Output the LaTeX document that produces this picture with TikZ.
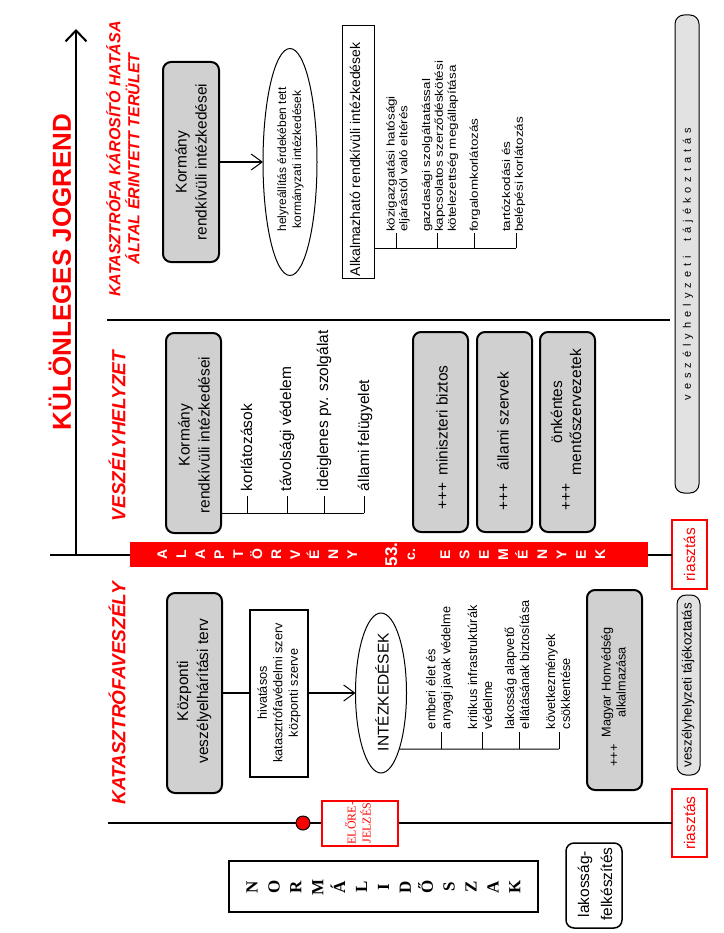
\documentclass[tikz,border=0pt]{standalone}
\usepackage{fontspec}
\setmainfont{Liberation Sans}
\newfontfamily\serifrm{Liberation Serif}
\newfontfamily\condf[FakeStretch=1.2]{Liberation Sans}
\usetikzlibrary{arrows.meta,shapes.geometric}
\definecolor{boxgray}{RGB}{208,208,208}
\definecolor{pillgray}{RGB}{226,226,226}
\definecolor{myred}{RGB}{255,0,0}
\newcommand\mylk{\kern5pt}
\begin{document}
\begin{tikzpicture}[x=1pt,y=-1pt,
  every node/.style={inner sep=0pt, outer sep=0pt},
  rt/.style={rotate=90},
  bigf/.style={font=\fontsize{15.5}{20}\selectfont},
  midf/.style={font=\fontsize{12.7}{15}\selectfont},
  cnf/.style={font=\condf\fontsize{11.2}{12.8}\selectfont},
  lwa/.style={line width=1pt},
  lwb/.style={line width=2pt},
  graybox/.style={draw, line width=2pt, fill=boxgray, rounded corners=8pt},
  redbox/.style={draw=myred, line width=2pt, fill=white},
  barletter/.style={rotate=90, anchor=base, text=white, font=\fontsize{14}{15}\bfseries\selectfont},
  normletter/.style={rotate=90, anchor=base, font=\serifrm\fontsize{17}{18}\bfseries\selectfont},
  redtitle/.style={rotate=90, text=myred, font=\fontsize{19}{22}\bfseries\itshape\selectfont},
  openarrow/.style={-{Straight Barb[length=11pt,width=16pt,line width=1pt 0]}},
]
\useasboundingbox (0,0) rectangle (723,933);
\fill[white] (0,0) rectangle (723,933);

% ---------- main axis and red bar ----------
\coordinate (axtop) at (76,29);
\coordinate (axbot) at (76,554.5);
\coordinate (stub) at (50,554.5);
\node[fill=myred, minimum width=518pt, minimum height=25pt] (bar) at (389,554.5) {};
\draw[lwb, -{Straight Barb[length=11pt,width=21pt]}] (axbot) -- (axtop);
\draw[lwb] (stub) -- (bar.west);

\foreach \c [count=\i from 0] in {A,L,A,P,T,Ö,R,V,É,N,Y}
  \node[barletter] (ba\i) at ({167+19*\i},554.5) {\c};
\node[barletter, font=\fontsize{17}{18}\bfseries\selectfont] (b53) at (397,554.5) {53.};
\node[barletter] (bc) at (415,554.5) {c.};
\foreach \c [count=\i from 0] in {E,S,E,M,É,N,Y,E,K}
  \node[barletter] (bb\i) at ({450+19.4*\i},554.5) {\c};

% ---------- separator lines ----------
\coordinate (h1a) at (107,320);
\coordinate (h1b) at (670,320);
\draw[lwb] (h1a) -- (h1b);

\node[redbox, minimum width=35pt, minimum height=69pt] (rias1) at (689.5,554.5) {};
\node[rt, text=myred, bigf] (rias1t) at (rias1) {riasztás};
\draw[lwb] (bar.east) -- (rias1.west);

\node[redbox, minimum width=35pt, minimum height=68pt] (rias2) at (689.5,823) {};
\node[rt, text=myred, bigf] (rias2t) at (rias2) {riasztás};
\coordinate (h2a) at (108,823);
\draw[lwb] (h2a) -- (rias2.west);
\node[circle, draw, fill=myred, line width=1pt, minimum size=14pt] (dot) at (303,823) {};
\node[redbox, minimum width=76pt, minimum height=45pt] (elore) at (360,823) {};
\node[rt, text=myred, font=\serifrm\fontsize{12}{15}\selectfont, align=center] (eloret) at (358,823) {ELŐRE-\\JELZÉS};

% ---------- titles ----------
\node[rt, text=myred, font=\fontsize{26}{30}\bfseries\selectfont] (kj) at (60,272) {KÜLÖNLEGES JOGREND};
\node[rt, text=myred, font=\fontsize{16}{19}\bfseries\itshape\selectfont, align=center] (kkh) at (123,159) {KATASZTRÓFA KÁROSÍTÓ HATÁSA\\ÁLTAL ÉRINTETT TERÜLET};
\node[redtitle] (vh) at (117,436) {VESZÉLYHELYZET};
\node[redtitle] (kv) at (117,693.5) {KATASZTRÓFAVESZÉLY};

% ---------- top section ----------
\node[graybox, minimum width=56pt, minimum height=200pt] (kb1) at (191,162) {};
\node[rt, bigf, align=center] (kb1t) at (kb1) {Kormány\\rendkívüli intézkedései};
\node[ellipse, draw, lwa, minimum width=54pt, minimum height=227pt] (ell1) at (290,162) {};
\node[rt, font=\fontsize{12}{15}\selectfont, align=center] (ell1t) at (290.5,159.5) {helyreállítás érdekében tett\\kormányzati intézkedések};
\draw[lwb, openarrow] (kb1.east) -- (ell1.west);

\node[draw, lwa, minimum width=32pt, minimum height=252pt] (alk) at (358,152) {};
\node[rt, anchor=west, font=\fontsize{14}{16}\selectfont] (alkt) at (355,276) {Alkalmazható rendkívüli intézkedések};
\coordinate (a0) at (alk.east |- 0,248);
\coordinate (a1) at (396,248); \coordinate (a1t) at (396,233);
\coordinate (a2) at (437,248); \coordinate (a2t) at (437,233);
\coordinate (a3) at (474,248); \coordinate (a3t) at (474,233);
\coordinate (a4) at (516,248); \coordinate (a4t) at (516,233);
\draw[lwa] (a0) -- (a4);
\foreach \t in {1,2,3,4} \draw[lwa] (a\t) -- (a\t t);
\node[rt, cnf, align=left, anchor=west] (at1) at (398,232) {közigazgatási hatósági\\eljárástól való eltérés};
\node[rt, cnf, align=left, anchor=west] (at2) at (440,232) {gazdasági szolgáltatással\\kapcsolatos szerződéskötési\\kötelezettség megállapítása};
\node[rt, cnf, align=left, anchor=west] (at3) at (475,232) {forgalomkorlátozás};
\node[rt, cnf, align=left, anchor=west] (at4) at (513.5,232) {tartózkodási és\\belépési korlátozás};

\node[draw, lwa, fill=pillgray, rounded corners=9pt, minimum width=24pt, minimum height=478pt] (pill1) at (687,254) {};
\node[rt, font=\fontsize{11}{13}\selectfont] (pill1t) at (688,264) {v\mylk e\mylk s\mylk z\mylk é\mylk l\mylk y\mylk h\mylk e\mylk l\mylk y\mylk z\mylk e\mylk t\mylk i\kern15pt t\mylk á\mylk j\mylk é\mylk k\mylk o\mylk z\mylk t\mylk a\mylk t\mylk á\mylk s};

% ---------- veszélyhelyzet section ----------
\node[graybox, minimum width=55pt, minimum height=200pt] (kb2) at (193.5,433) {};
\node[rt, bigf, align=center] (kb2t) at (194,435) {Kormány\\rendkívüli intézkedései};
\coordinate (v0) at (kb2.east |- 0,513);
\coordinate (v1) at (247,513); \coordinate (v1t) at (247,496);
\coordinate (v2) at (287,513); \coordinate (v2t) at (287,496);
\coordinate (v3) at (324,513); \coordinate (v3t) at (324,496);
\coordinate (v4) at (364,513); \coordinate (v4t) at (364,496);
\draw[lwa] (v0) -- (v4);
\foreach \t in {1,2,3,4} \draw[lwa] (v\t) -- (v\t t);
\node[rt, bigf, anchor=west] (vt1) at (246.5,491) {korlátozások};
\node[rt, bigf, anchor=west] (vt2) at (287,491) {távolsági védelem};
\node[rt, bigf, anchor=west] (vt3) at (324,491) {ideiglenes pv. szolgálat};
\node[rt, bigf, anchor=west] (vt4) at (365,491) {állami felügyelet};

\node[graybox, minimum width=55pt, minimum height=200pt] (gb1) at (440.5,432) {};
\node[rt, bigf] (gb1t) at (442,437.5) {+++\ \,miniszteri biztos};
\node[graybox, minimum width=55pt, minimum height=200pt] (gb2) at (504.5,432) {};
\node[rt, bigf] (gb2t) at (503,441) {+++\ \ \ állami szervek};
\node[graybox, minimum width=55pt, minimum height=200pt] (gb3) at (567.5,432) {};
\node[rt, bigf] (gb3t) at (567.5,430) {+++\ \ \begin{tabular}{@{}c@{}}önkéntes\\[-1pt]mentőszervezetek\end{tabular}};

% ---------- katasztrófaveszély section ----------
\node[graybox, minimum width=55pt, minimum height=200pt] (kp) at (194.5,693) {};
\node[rt, bigf, align=center] (kpt) at (194,691) {Központi\\veszélyelhárítási terv};
\node[draw, lwb, fill=white, minimum width=58pt, minimum height=167pt] (hiv) at (279,693) {};
\node[rt, font=\fontsize{12.7}{15.5}\selectfont, align=center] (hivt) at (hiv) {hivatásos\\katasztrófavédelmi szerv\\központi szerve};
\draw[lwb] (kp.east) -- (hiv.west);
\node[ellipse, draw, lwa, minimum width=51pt, minimum height=160pt] (intez) at (381,693) {};
\node[rt, bigf] (intezt) at (382,692) {INTÉZKEDÉSEK};
\draw[lwb, openarrow] (hiv.east) -- (intez.west);

\coordinate (i0) at (intez.-72);
\coordinate (i1) at (441,749); \coordinate (i1t) at (441,732);
\coordinate (i2) at (482,749); \coordinate (i2t) at (482,732);
\coordinate (i3) at (519,749); \coordinate (i3t) at (519,732);
\coordinate (i4) at (559,749); \coordinate (i4t) at (559,732);
\draw[lwa] (i0) -- (i4);
\foreach \t in {1,2,3,4} \draw[lwa] (i\t) -- (i\t t);
\node[rt, midf, align=left, anchor=west] (it1) at (439.5,729) {emberi élet és\\anyagi javak védelme};
\node[rt, midf, align=left, anchor=west] (it2) at (480,729) {kritikus infrastruktúrák\\védelme};
\node[rt, midf, align=left, anchor=west] (it3) at (517,729) {lakosság alapvető\\ellátásának biztosítása};
\node[rt, midf, align=left, anchor=west] (it4) at (558,729) {következmények\\csökkentése};

\node[graybox, minimum width=55pt, minimum height=200pt] (mh) at (614.5,690) {};
\node[rt, midf] (mht) at (615,697) {+++\ \ \begin{tabular}{@{}c@{}}Magyar Honvédség\\alkalmazása\end{tabular}};

\node[draw, lwa, fill=pillgray, rounded corners=9pt, minimum width=23pt, minimum height=180pt] (pill2) at (688.5,685) {};
\node[rt, font=\fontsize{13.3}{15}\selectfont] (pill2t) at (688,685) {veszélyhelyzeti tájékoztatás};

% ---------- normál időszak ----------
\node[draw, lwb, minimum width=309pt, minimum height=51pt] (normbox) at (383.5,886.5) {};
\foreach \c [count=\i from 0] in {N,O,R,M,Á,L,I,D,Ő,S,Z,A,K}
  \node[normletter] (nl\i) at ({257.6+21.9*\i},887) {\c};

\node[draw, line width=1.5pt, rounded corners=8pt, minimum width=56pt, minimum height=85pt] (lak) at (594,885.5) {};
\node[rt, font=\fontsize{15.5}{23}\selectfont, align=center] (lakt) at (595,884) {lakosság-\\felkészítés};
\end{tikzpicture}
\end{document}
